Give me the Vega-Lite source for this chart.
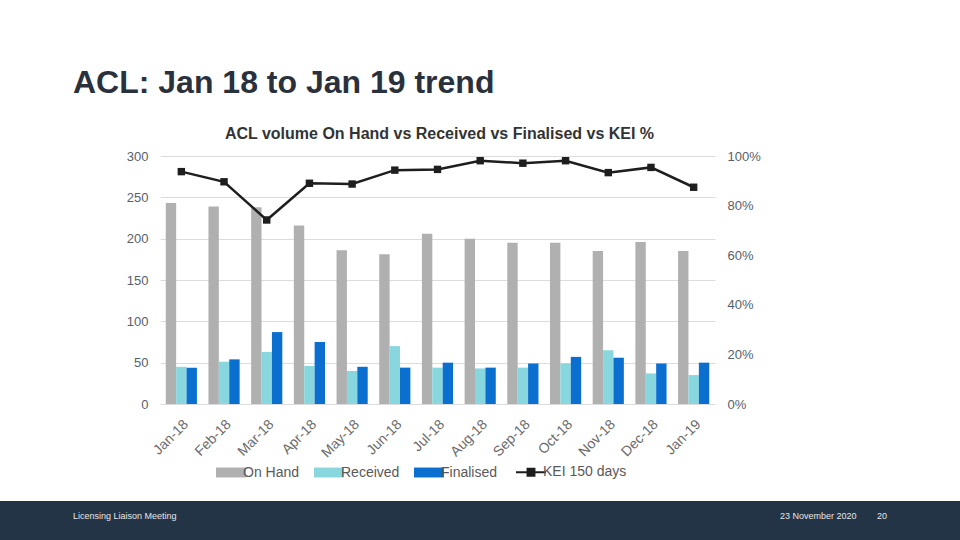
{
  "$schema": "https://vega.github.io/schema/vega-lite/v6.json",
  "background": "white",
  "padding": {"left": 0, "top": 67, "right": 0, "bottom": 0},
  "columns": 1,
  "spacing": 41,
  "title": {
    "text": "ACL: Jan 18 to Jan 19 trend",
    "anchor": "start",
    "frame": "group",
    "dx": 73,
    "offset": 26,
    "fontSize": 32,
    "fontWeight": "bold",
    "font": "Liberation Sans",
    "color": "#2a313c"
  },
  "config": {
    "view": {"stroke": null},
    "font": "Liberation Sans"
  },
  "datasets": {
    "volumes": [
      {"month": "Jan-18", "series": "On Hand", "count": 243},
      {"month": "Jan-18", "series": "Received", "count": 45},
      {"month": "Jan-18", "series": "Finalised", "count": 44},
      {"month": "Feb-18", "series": "On Hand", "count": 239},
      {"month": "Feb-18", "series": "Received", "count": 51},
      {"month": "Feb-18", "series": "Finalised", "count": 54},
      {"month": "Mar-18", "series": "On Hand", "count": 238},
      {"month": "Mar-18", "series": "Received", "count": 63},
      {"month": "Mar-18", "series": "Finalised", "count": 87},
      {"month": "Apr-18", "series": "On Hand", "count": 216},
      {"month": "Apr-18", "series": "Received", "count": 46},
      {"month": "Apr-18", "series": "Finalised", "count": 75},
      {"month": "May-18", "series": "On Hand", "count": 186},
      {"month": "May-18", "series": "Received", "count": 40},
      {"month": "May-18", "series": "Finalised", "count": 45},
      {"month": "Jun-18", "series": "On Hand", "count": 181},
      {"month": "Jun-18", "series": "Received", "count": 70},
      {"month": "Jun-18", "series": "Finalised", "count": 44},
      {"month": "Jul-18", "series": "On Hand", "count": 206},
      {"month": "Jul-18", "series": "Received", "count": 44},
      {"month": "Jul-18", "series": "Finalised", "count": 50},
      {"month": "Aug-18", "series": "On Hand", "count": 200},
      {"month": "Aug-18", "series": "Received", "count": 43},
      {"month": "Aug-18", "series": "Finalised", "count": 44},
      {"month": "Sep-18", "series": "On Hand", "count": 195},
      {"month": "Sep-18", "series": "Received", "count": 44},
      {"month": "Sep-18", "series": "Finalised", "count": 49},
      {"month": "Oct-18", "series": "On Hand", "count": 195},
      {"month": "Oct-18", "series": "Received", "count": 49},
      {"month": "Oct-18", "series": "Finalised", "count": 57},
      {"month": "Nov-18", "series": "On Hand", "count": 185},
      {"month": "Nov-18", "series": "Received", "count": 65},
      {"month": "Nov-18", "series": "Finalised", "count": 56},
      {"month": "Dec-18", "series": "On Hand", "count": 196},
      {"month": "Dec-18", "series": "Received", "count": 37},
      {"month": "Dec-18", "series": "Finalised", "count": 49},
      {"month": "Jan-19", "series": "On Hand", "count": 185},
      {"month": "Jan-19", "series": "Received", "count": 35},
      {"month": "Jan-19", "series": "Finalised", "count": 50}
    ],
    "kei": [
      {"month": "Jan-18", "kei": 0.937},
      {"month": "Feb-18", "kei": 0.896},
      {"month": "Mar-18", "kei": 0.742},
      {"month": "Apr-18", "kei": 0.89},
      {"month": "May-18", "kei": 0.887},
      {"month": "Jun-18", "kei": 0.943},
      {"month": "Jul-18", "kei": 0.946},
      {"month": "Aug-18", "kei": 0.981},
      {"month": "Sep-18", "kei": 0.971},
      {"month": "Oct-18", "kei": 0.981},
      {"month": "Nov-18", "kei": 0.933},
      {"month": "Dec-18", "kei": 0.954},
      {"month": "Jan-19", "kei": 0.874}
    ],
    "blank": [{"note": "spacer"}]
  },
  "concat": [
    {
      "spacing": 0,
      "hconcat": [
        {
          "width": 1,
          "height": 1,
          "data": {"name": "blank"},
          "mark": {"type": "point", "opacity": 0, "size": 0, "strokeWidth": 0},
          "encoding": {}
        },
        {
          "width": 555,
          "height": 248,
          "title": {
            "text": "ACL volume On Hand vs Received vs Finalised vs KEI %",
            "anchor": "middle",
            "frame": "group",
            "dx": 2,
            "offset": 8,
            "fontSize": 16,
            "fontWeight": "bold",
            "color": "#333333"
          },
          "layer": [
            {
              "data": {"name": "volumes"},
              "mark": {"type": "bar"},
              "encoding": {
                "x": {
                  "field": "month",
                  "type": "nominal",
                  "sort": null,
                  "scale": {"paddingInner": 0.27, "paddingOuter": 0.135},
                  "axis": {
                    "title": null,
                    "labelAngle": -45,
                    "labelFontSize": 14,
                    "labelColor": "#6b6b6b",
                    "labelPadding": 13,
                    "ticks": false,
                    "domain": false
                  }
                },
                "xOffset": {
                  "field": "series",
                  "type": "nominal",
                  "sort": ["On Hand", "Received", "Finalised"]
                },
                "y": {
                  "field": "count",
                  "type": "quantitative",
                  "scale": {"domain": [0, 300]},
                  "axis": {
                    "title": null,
                    "values": [0, 50, 100, 150, 200, 250, 300],
                    "gridColor": "#dcdcdc",
                    "domain": false,
                    "ticks": false,
                    "labelFontSize": 13,
                    "labelColor": "#56606c",
                    "labelPadding": 12,
                    "minExtent": 159
                  }
                },
                "color": {
                  "field": "series",
                  "type": "nominal",
                  "scale": {
                    "domain": ["On Hand", "Received", "Finalised", "KEI 150 days"],
                    "range": ["#b0b0b0", "#88d7df", "#0b6fd0", "#1e1e1e"]
                  },
                  "legend": {
                    "title": null,
                    "orient": "none",
                    "legendX": 224,
                    "legendY": 309,
                    "direction": "horizontal",
                    "symbolSize": 900,
                    "symbolType": "M-1,-0.33H1V0.33H-1Z",
                    "labelFontSize": 14,
                    "labelColor": "#595959",
                    "labelOffset": 5,
                    "columnPadding": 14,
                    "encode": {
                      "symbols": {
                        "update": {
                          "shape": {"signal": "datum.value === 'KEI 150 days' ? 'M-1,0H1M-0.23,-0.23H0.23V0.23H-0.23Z' : 'M-1,-0.33H1V0.33H-1Z'"},
                          "fill": {"scale": "color", "field": "value"},
                          "stroke": {"scale": "color", "field": "value"},
                          "strokeWidth": {"signal": "datum.value === 'KEI 150 days' ? 2 : 0"},
                          "opacity": {"value": 1},
                          "fillOpacity": {"value": 1}
                        }
                      }
                    }
                  }
                }
              }
            },
            {
              "data": {"name": "kei"},
              "mark": {
                "type": "line",
                "strokeWidth": 2.5,
                "point": {"shape": "square", "size": 55, "filled": true, "opacity": 1}
              },
              "encoding": {
                "x": {"field": "month", "type": "nominal", "sort": null},
                "y": {
                  "field": "kei",
                  "type": "quantitative",
                  "scale": {"domain": [0, 1]},
                  "axis": {
                    "orient": "right",
                    "title": null,
                    "format": ".0%",
                    "values": [0, 0.2, 0.4, 0.6, 0.8, 1],
                    "grid": false,
                    "domain": false,
                    "ticks": false,
                    "labelFontSize": 13,
                    "labelColor": "#56606c",
                    "labelPadding": 12
                  }
                },
                "color": {"datum": "KEI 150 days"}
              }
            }
          ],
          "resolve": {"scale": {"y": "independent"}}
        }
      ]
    },
    {
      "spacing": 0,
      "hconcat": [
        {
          "width": 780,
          "height": 41,
          "view": {"fill": "#243447"},
          "data": {"name": "blank"},
          "title": {"text": "Licensing Liaison Meeting", "anchor": "start", "frame": "group", "dx": 73, "offset": -20, "fontSize": 9, "fontWeight": "normal", "color": "#e6e6e6"},
          "mark": {"type": "point", "opacity": 0, "size": 0, "strokeWidth": 0},
          "encoding": {}
        },
        {
          "width": 97,
          "height": 41,
          "view": {"fill": "#243447"},
          "data": {"name": "blank"},
          "title": {"text": "23 November 2020", "anchor": "start", "frame": "group", "dx": 0, "offset": -20, "fontSize": 9, "fontWeight": "normal", "color": "#e6e6e6"},
          "mark": {"type": "point", "opacity": 0, "size": 0, "strokeWidth": 0},
          "encoding": {}
        },
        {
          "width": 83,
          "height": 41,
          "view": {"fill": "#243447"},
          "data": {"name": "blank"},
          "title": {"text": "20", "anchor": "start", "frame": "group", "dx": 0, "offset": -20, "fontSize": 9, "fontWeight": "normal", "color": "#e6e6e6"},
          "mark": {"type": "point", "opacity": 0, "size": 0, "strokeWidth": 0},
          "encoding": {}
        }
      ]
    }
  ]
}
